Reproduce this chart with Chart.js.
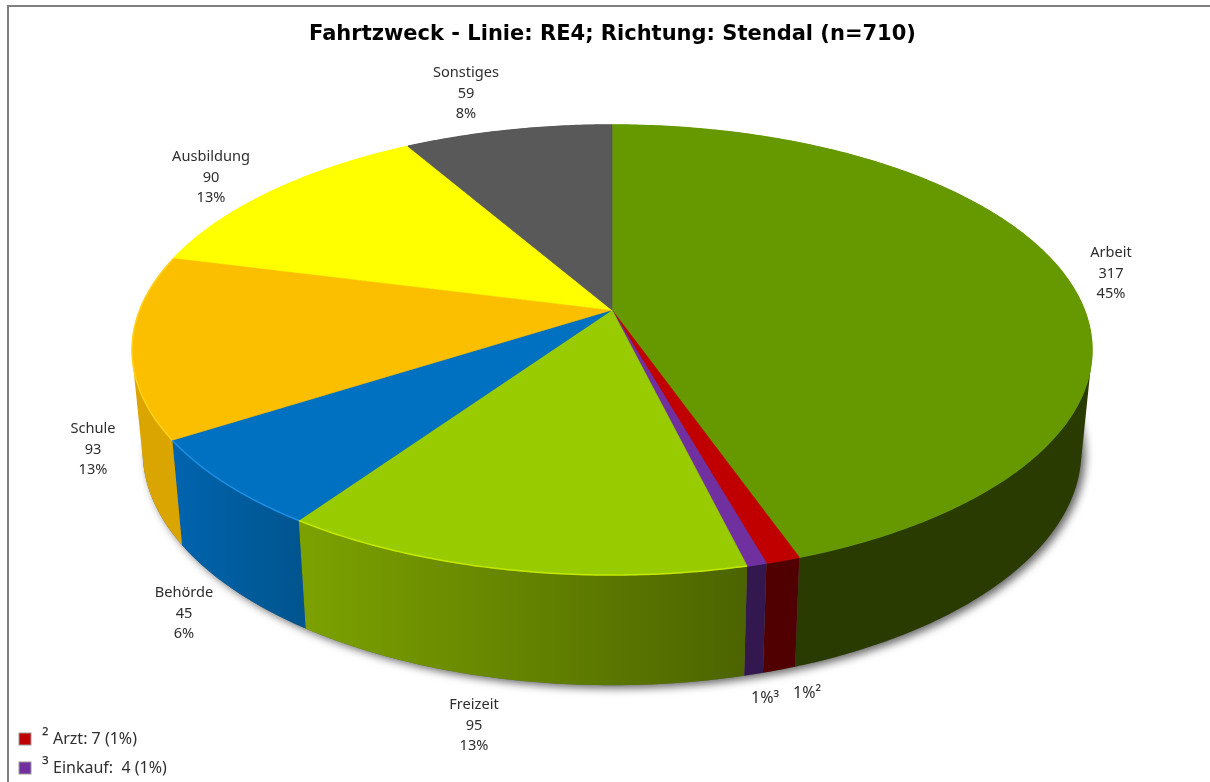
<!DOCTYPE html>
<html lang="de">
<head>
<meta charset="utf-8">
<title>Fahrtzweck</title>
<script src="https://cdn.jsdelivr.net/npm/chart.js@4"></script>
<style>
  html, body { margin: 0; padding: 0; background: #fff; overflow: hidden; }
  #wrap { width: 1210px; height: 782px; }
</style>
</head>
<body>
<div id="wrap"><canvas id="fahrtzweck"></canvas></div>
<script>
// data
const categories = ["Arbeit", "Arzt", "Einkauf", "Freizeit", "Behörde", "Schule", "Ausbildung", "Sonstiges"];
const values = [317, 7, 4, 95, 45, 93, 90, 59];
const total = 710;

// styles
const topColors = ["#669900", "#c00000", "#7030a0", "#99cc00", "#0070c0", "#fcbf00", "#ffff00", "#595959"];
const rimColors = ["#669900", "#c00000", "#7030a0", "#c4e800", "#1c8ee4", "#ffd21c", "#ffff00", "#595959"];
const wallLeft = ["#2a3b00", "#500000", "#33174f", "#7ca200", "#0064ae", "#dba500", "#b0b000", "#333333"];
const wallRight = ["#2a3b00", "#500000", "#33174f", "#4c6400", "#00558f", "#dba500", "#b0b000", "#333333"];

// label centres, first line of each block
const labelSpots = [[1111, 253], null, null, [474, 705], [184, 593], [93, 429], [211, 157], [466, 73]];
const tinyLabels = { Arzt: { x: 807, y: 693, mark: "²" }, Einkauf: { x: 765, y: 698, mark: "³" } };
const legendRows = [{ name: "Arzt", y: 739, gap: " " }, { name: "Einkauf", y: 768, gap: "  " }];

// the pie is a tilted disc, so the apex is not at the middle of the ellipse
const apexX = 612;
const apexY = 310;
const radiusX = 472.3;
const radiusY = 217.9;
const tilt = 0.1778;

const topPoint = (angle) => {
  const u = Math.cos(angle);
  const v = Math.sin(angle);
  const w = 1 - tilt * v;
  return [apexX + (radiusX * u) / w, apexY + (radiusY * v) / w];
};

const bottomPoint = (angle) => {
  const [x, y] = topPoint(angle);
  return [apexX + 0.978 * (x - apexX), apexY + 99.6 + 1.04 * (y - apexY)];
};

const sampleArc = (from, to, fn) => {
  const steps = Math.max(2, Math.ceil((to - from) / 0.01));
  const points = [];
  for (let i = 0; i <= steps; i++) points.push(fn(from + ((to - from) * i) / steps));
  return points;
};

const tracePoints = (ctx, points, joined = false) => {
  points.forEach(([x, y], i) => (i === 0 && !joined ? ctx.moveTo(x, y) : ctx.lineTo(x, y)));
};

const signedArea = (points) =>
  points.reduce((sum, [x, y], i) => {
    const [nx, ny] = points[(i + 1) % points.length];
    return sum + x * ny - nx * y;
  }, 0);

const percent = (value) => Math.round((value / total) * 100) + "%";

const pie3d = {
  id: "pie3d",
  beforeDraw(chart) {
    // frame of the original picture
    const ctx = chart.ctx;
    ctx.save();
    ctx.strokeStyle = "#808080";
    ctx.lineWidth = 2;
    ctx.beginPath();
    ctx.moveTo(8, 782);
    ctx.lineTo(8, 6);
    ctx.lineTo(1210, 6);
    ctx.stroke();
    ctx.restore();
  },
  beforeDatasetsDraw(chart) {
    const ctx = chart.ctx;
    const arcs = chart.getDatasetMeta(0).data;
    const full = [-Math.PI / 2, 1.5 * Math.PI];

    ctx.save();

    // soft shadow below the disc
    ctx.save();
    ctx.shadowColor = "rgba(0,0,0,0.6)";
    ctx.shadowBlur = 9;
    ctx.shadowOffsetX = 4;
    ctx.shadowOffsetY = 3;
    ctx.fillStyle = "#666";
    ctx.beginPath();
    tracePoints(ctx, sampleArc(full[0], full[1], bottomPoint));
    ctx.closePath();
    ctx.fill();
    ctx.restore();

    // walls: one path of same-wound quads, so the side edges run straight
    // from top to bottom rim and no seams show between the quads
    arcs.forEach((arc, i) => {
      const outer = sampleArc(arc.startAngle, arc.endAngle, topPoint);
      const lower = sampleArc(arc.startAngle, arc.endAngle, bottomPoint);
      const xs = [outer[0][0], outer[outer.length - 1][0]];
      const grad = ctx.createLinearGradient(Math.min(...xs), 0, Math.max(...xs), 0);
      grad.addColorStop(0, wallLeft[i]);
      grad.addColorStop(1, wallRight[i]);
      ctx.fillStyle = grad;
      ctx.beginPath();
      for (let n = 0; n < outer.length - 1; n++) {
        const quad = [outer[n], outer[n + 1], lower[n + 1], lower[n]];
        if (signedArea(quad) < 0) quad.reverse();
        tracePoints(ctx, quad);
        ctx.closePath();
      }
      ctx.fill();
    });

    // top faces
    arcs.forEach((arc, i) => {
      ctx.fillStyle = topColors[i];
      ctx.strokeStyle = topColors[i];
      ctx.lineWidth = 0.6;
      ctx.beginPath();
      ctx.moveTo(apexX, apexY);
      tracePoints(ctx, sampleArc(arc.startAngle, arc.endAngle, topPoint), true);
      ctx.closePath();
      ctx.fill();
      ctx.stroke();
    });

    // bright bevel on the front rim
    arcs.forEach((arc, i) => {
      ctx.strokeStyle = rimColors[i];
      ctx.lineWidth = 1.5;
      ctx.beginPath();
      tracePoints(ctx, sampleArc(arc.startAngle, arc.endAngle, topPoint));
      ctx.stroke();
    });

    ctx.restore();
    return false; // the flat arcs are replaced by the faces above
  },
  afterDraw(chart) {
    const ctx = chart.ctx;
    ctx.save();
    ctx.font = '14.6px "Noto Sans"';
    ctx.fillStyle = "#2e2e2e";
    ctx.textAlign = "center";
    ctx.textBaseline = "middle";

    categories.forEach((name, i) => {
      const spot = labelSpots[i];
      if (!spot) return;
      [name, String(values[i]), percent(values[i])].forEach((line, n) => {
        ctx.fillText(line, spot[0], spot[1] + n * 20.5);
      });
    });

    ctx.font = '16px "Noto Sans"';
    Object.keys(tinyLabels).forEach((name) => {
      const tiny = tinyLabels[name];
      ctx.fillText(percent(values[categories.indexOf(name)]) + tiny.mark, tiny.x, tiny.y);
    });

    // key for the two slices too thin to carry a label
    ctx.textAlign = "left";
    legendRows.forEach((row) => {
      const i = categories.indexOf(row.name);
      ctx.fillStyle = topColors[i];
      ctx.strokeStyle = "#999999";
      ctx.lineWidth = 1;
      ctx.fillRect(19, row.y - 6, 12, 12);
      ctx.strokeRect(19, row.y - 6, 12, 12);
      ctx.fillStyle = "#2e2e2e";
      ctx.font = '19px "Noto Sans"';
      ctx.fillText(tinyLabels[row.name].mark, 42, row.y - 1);
      ctx.font = '16px "Noto Sans"';
      ctx.fillText(`${row.name}:${row.gap}${values[i]} (${percent(values[i])})`, 53, row.y);
    });
    ctx.restore();
  },
};

new Chart(document.getElementById("fahrtzweck"), {
  type: "pie",
  data: {
    labels: categories,
    datasets: [{ data: values, backgroundColor: topColors, borderWidth: 0 }],
  },
  options: {
    responsive: true,
    maintainAspectRatio: false,
    animation: false,
    layout: { padding: { left: 15 } },
    plugins: {
      legend: { display: false },
      tooltip: { enabled: false },
      title: {
        display: true,
        text: "Fahrtzweck - Linie: RE4; Richtung: Stendal (n=710)",
        color: "#000000",
        font: { family: '"DejaVu Sans"', size: 21, weight: "bold" },
        padding: { top: 22, bottom: 0 },
      },
    },
  },
  plugins: [pie3d],
});
</script>
</body>
</html>
